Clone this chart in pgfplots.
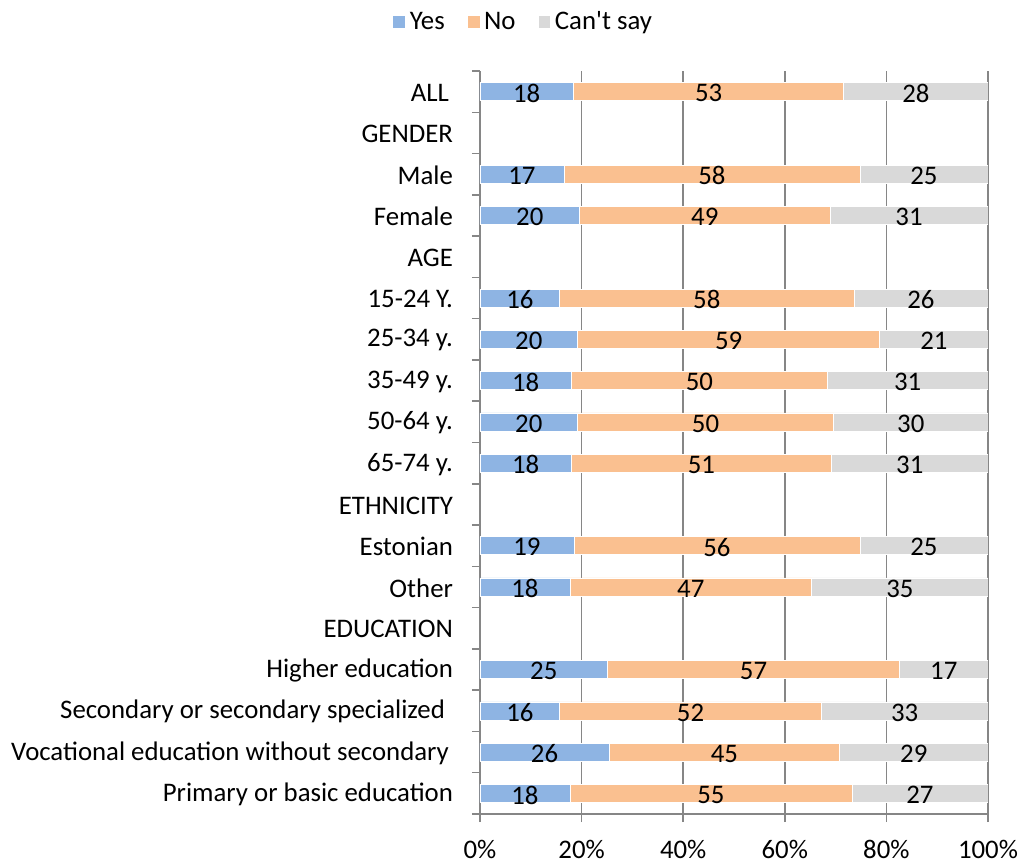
\documentclass[border=0pt]{standalone}
\usepackage{fontspec}
\setmainfont{Carlito}
\newfontfamily\plainfont{Carlito}
\usepackage{pgfplots}
\pgfplotsset{compat=1.18}
\definecolor{cyes}{RGB}{142,180,227}
\definecolor{cno}{RGB}{250,192,144}
\definecolor{ccs}{RGB}{217,217,217}
\definecolor{gridc}{RGB}{134,134,134}
\newcommand{\fs}{\fontsize{13.4bp}{16bp}\selectfont}
\begin{document}
\begin{tikzpicture}
\useasboundingbox (-240bp,-26bp) rectangle (270.5bp,407bp);
\begin{axis}[
  at={(0,0)}, anchor=south west, scale only axis, width=254bp, height=371.5bp,
  xbar stacked, bar width=9bp,
  xmin=0, xmax=100, ymin=-0.5, ymax=17.5,
  axis x line*=bottom, axis y line*=left,
  axis line style={gridc, line width=0.75bp},
  xtick={0,20,...,100}, xticklabels={0\%,20\%,40\%,60\%,80\%,100\%},
  xmajorgrids, grid style={gridc, line width=0.75bp},
  ytick={-0.5,0.5,...,17.5}, y tick label as interval,
  yticklabels={Primary or basic education, Vocational education without secondary\kern2bp, Secondary or secondary specialized\kern4bp, Higher education, EDUCATION, Other, Estonian, ETHNICITY, 65-74 y., 50-64 y., 35-49 y., 25-34 y., 15-24 Y., AGE, Female, Male, GENDER, ALL\kern2bp},
  xtick pos=bottom, ytick pos=left,
  tick align=outside, major tick length=4bp, tick style={gridc, line width=0.75bp},
  font=\fs,
  ticklabel style={font=\fs},
  yticklabel style={xshift=-6bp, yshift=-0.5bp},
  xticklabel style={yshift=-5.5bp},
  nodes near coords, point meta=explicit symbolic,
  nodes near coords style={font=\fs, anchor=center, yshift=-0.8bp, text=black},
  legend style={at={(0.087,1.066)}, anchor=center, draw=none, fill=none, legend columns=3,
    font=\fs,
    /tikz/every even column/.append style={column sep=9bp}},
  legend image code/.code={\fill[#1] (0bp,-3.2bp) rectangle (6.4bp,3.2bp);},
]
\addplot[fill=cyes, draw=white, line width=0.3bp] coordinates {
(18.4,17)[18] (16.5,15)[17] (19.6,14)[20] (15.7,12)[16] (19.2,11)[20] (18.0,10)[18] (19.2,9)[20] (18.0,8)[18]
(18.5,6)[19] (17.7,5)[18] (25.1,3)[25] (15.7,2)[16] (25.4,1)[26] (17.7,0)[18]};
\addplot[fill=cno, draw=white, line width=0.3bp] coordinates {
(53.2,17)[53] (58.3,15)[58] (49.3,14)[49] (57.9,12)[58] (59.5,11)[59] (50.4,10)[50] (50.4,9)[50] (51.2,8)[51]
(56.3,6)[56] (47.6,5)[47] (57.5,3)[57] (51.5,2)[52] (45.4,1)[45] (55.5,0)[55]};
\addplot[fill=ccs, draw=white, line width=0.3bp] coordinates {
(28.4,17)[28] (25.2,15)[25] (31.1,14)[31] (26.4,12)[26] (21.3,11)[21] (31.6,10)[31] (30.4,9)[30] (30.8,8)[31]
(25.2,6)[25] (34.7,5)[35] (17.4,3)[17] (32.8,2)[33] (29.2,1)[29] (26.8,0)[27]};
\legend{Yes,No,{\plainfont Can't say}}
\end{axis}
\end{tikzpicture}
\end{document}
